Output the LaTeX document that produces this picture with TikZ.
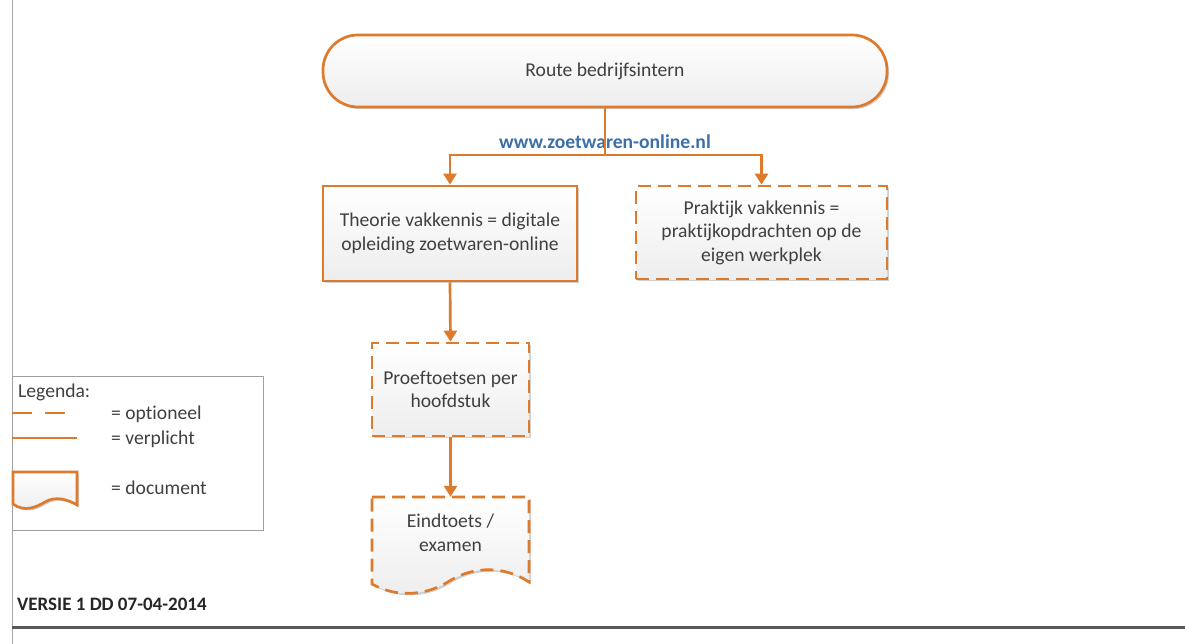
\documentclass[tikz,border=0pt]{standalone}
\usepackage{fontspec}
\setmainfont{Carlito}[Ligatures=NoCommon]
\usetikzlibrary{arrows.meta,shadows,positioning}
\definecolor{orng}{RGB}{222,122,44}
\definecolor{txt}{RGB}{64,64,64}
\definecolor{urlblue}{RGB}{60,110,170}
\tikzset{
  boxbase/.style={draw=orng, line width=2.7pt, top color=white, bottom color=gray!14,
    drop shadow={shadow xshift=2pt, shadow yshift=-2pt, opacity=0.18, fill=black},
    text=txt, font=\fontsize{19.6}{23.5}\selectfont, align=center, inner sep=0pt},
  solidbox/.style={boxbase, rectangle},
  dashbox/.style={boxbase, rectangle, dash pattern=on 13pt off 7pt},
  termbox/.style={boxbase, rectangle, rounded corners=35pt},
  conn/.style={draw=orng, line width=2.7pt},
  arr/.style={conn, -{Triangle[width=13pt,length=11pt]}},
  lbl/.style={text=txt, font=\fontsize{19.6}{23.5}\selectfont, inner sep=0pt, anchor=west},
}
\begin{document}
\begin{tikzpicture}[x=1pt,y=-1pt]
\useasboundingbox (0,0) rectangle (1185,644);
% page lines
\draw[gray!70, line width=1pt] (12,0) -- (12,644);
\draw[black!65, line width=3pt] (12,627) -- (1185,627);

% nodes
\node[termbox, minimum width=564pt, minimum height=72pt] (start) at (605,71) {Route bedrijfsintern};
\node[text=urlblue, font=\bfseries\fontsize{19.6}{23.5}\selectfont, inner sep=0pt] (url) at (605,142) {www.zoetwaren-online.nl};
\node[solidbox, minimum width=254pt, minimum height=95pt] (theorie) at (450,233.5) {Theorie vakkennis = digitale\\opleiding zoetwaren-online};
\node[dashbox, minimum width=251pt, minimum height=93pt] (praktijk) at (761.5,232.5) {Praktijk vakkennis =\\praktijkopdrachten op de\\eigen werkplek};
\node[dashbox, minimum width=157pt, minimum height=93pt] (proef) at (450.5,389.5) {Proeftoetsen per\\hoofdstuk};

% document shape
\node[inner sep=0pt, minimum width=157pt, minimum height=85pt] (doc) at (450.5,539.5) {};
\path[boxbase, dash pattern=on 13pt off 7pt]
  (372,497) -- (529,497) -- (529,582)
  .. controls (505,566) and (475,566) .. (451,580)
  .. controls (427,596) and (397,598) .. (372,584) -- cycle;
\node[text=txt, font=\fontsize{19.6}{23.5}\selectfont, align=center, inner sep=0pt] (doctxt) at (450.5,533) {Eindtoets /\\examen};

% connectors
\coordinate (junc) at (605,155);
\draw[conn] (start.south) -- (junc);
\draw[arr] (junc) -| (theorie.north);
\draw[arr] (junc) -| (praktijk.north);
\draw[arr] (theorie.south) -- (proef.north);
\draw[arr] (proef.south) -- (doc.north);

% legend
\node[draw=gray!75, line width=1pt, minimum width=251pt, minimum height=154pt, inner sep=0pt] (legend) at (137.5,453) {};
\node[lbl] (legtitle) at (18,392) {Legenda:};
\coordinate (l1a) at (12,413);
\coordinate (l1b) at (70,413);
\draw[conn, dash pattern=on 20pt off 13pt] (l1a) -- (l1b);
\node[lbl] (l1t) at (111,414) {= optioneel};
\coordinate (l2a) at (12,438);
\coordinate (l2b) at (77,438);
\draw[conn] (l2a) -- (l2b);
\node[lbl] (l2t) at (111,439) {= verplicht};
\path[boxbase]
  (13,472) -- (77,472) -- (77,505)
  .. controls (67,499) and (55,496) .. (45,502)
  .. controls (35,508) and (24,512) .. (13,504) -- cycle;
\node[lbl] (l3t) at (111,488) {= document};

% footer
\node[lbl, text=black!85, font=\bfseries\fontsize{19}{22}\selectfont] (versie) at (17,604) {VERSIE 1 DD 07-04-2014};
\end{tikzpicture}
\end{document}
